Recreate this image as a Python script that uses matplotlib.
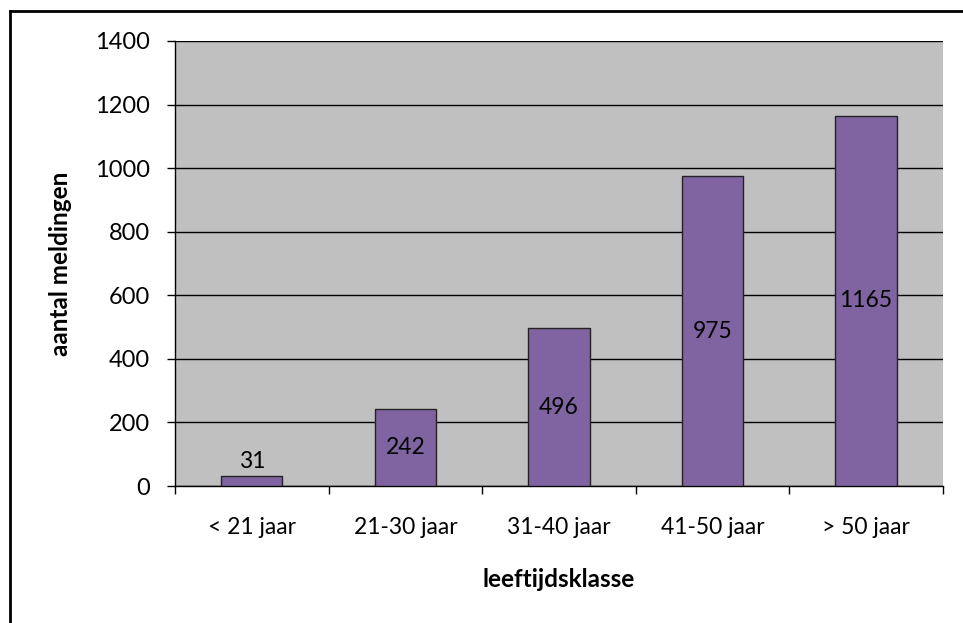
import matplotlib
matplotlib.use("Agg")
import matplotlib.pyplot as plt
from matplotlib.lines import Line2D

plt.rcParams["font.family"] = ["Lato", "DejaVu Sans"]

# data
categories = ["< 21 jaar", "21-30 jaar", "31-40 jaar", "41-50 jaar", "> 50 jaar"]
counts = [31, 242, 496, 975, 1165]
y_ticks = [0, 200, 400, 600, 800, 1000, 1200, 1400]

BAR_COLOR = "#8064A2"
BG_COLOR = "#C0C0C0"

fig = plt.figure(figsize=(9.63, 6.23), dpi=100)
ax = fig.add_axes([0.1817, 0.2199, 0.7975, 0.7143])
ax.set_facecolor(BG_COLOR)

x = list(range(len(categories)))
bars = ax.bar(x, counts, width=0.4, color=BAR_COLOR, edgecolor="#222222",
              linewidth=1.0, zorder=3)

ax.set_xlim(-0.5, len(categories) - 0.5)
ax.set_ylim(0, 1400)
ax.set_yticks(y_ticks)
ax.yaxis.grid(True, color="black", linewidth=1.0, zorder=1)
ax.set_axisbelow(True)

# category names at centres, tick marks on the boundaries
ax.set_xticks(x)
ax.set_xticklabels(categories)
ax.set_xticks([i - 0.5 for i in range(len(categories) + 1)], minor=True)
ax.tick_params(axis="x", which="major", length=0, pad=22, labelsize=16.5)
ax.tick_params(axis="x", which="minor", length=6, width=1, direction="out")
ax.tick_params(axis="y", length=6, width=1, direction="out", pad=12, labelsize=17)

for side in ("top", "right"):
    ax.spines[side].set_visible(False)
for side in ("left", "bottom"):
    ax.spines[side].set_color("black")
    ax.spines[side].set_linewidth(1.0)

# value labels: inside the bar centre, above the bar when it is too short
for rect, val in zip(bars, counts):
    cx = rect.get_x() + rect.get_width() / 2
    if val < 100:
        ax.annotate(str(val), (cx, val), xytext=(0, 3), textcoords="offset points",
                    ha="center", va="bottom", fontsize=16.5, zorder=4)
    else:
        ax.text(cx, val / 2, str(val), ha="center", va="center", fontsize=16.5, zorder=4)

ax.set_ylabel("aantal meldingen", fontsize=17.5, fontweight="bold")
ax.yaxis.set_label_coords(-0.134, 0.5)
ax.set_xlabel("leeftijdsklasse", fontsize=17.5, fontweight="bold", va="top")
ax.xaxis.set_label_coords(0.5, -0.185)

# outer chart frame (only top and left edges are visible in the crop)
fig.add_artist(Line2D([0.0104, 1.0], [0.9823, 0.9823], color="black", linewidth=2.0))
fig.add_artist(Line2D([0.0104, 0.0104], [0.0, 0.9823], color="black", linewidth=2.0))

fig.savefig("out.png", dpi=100)
